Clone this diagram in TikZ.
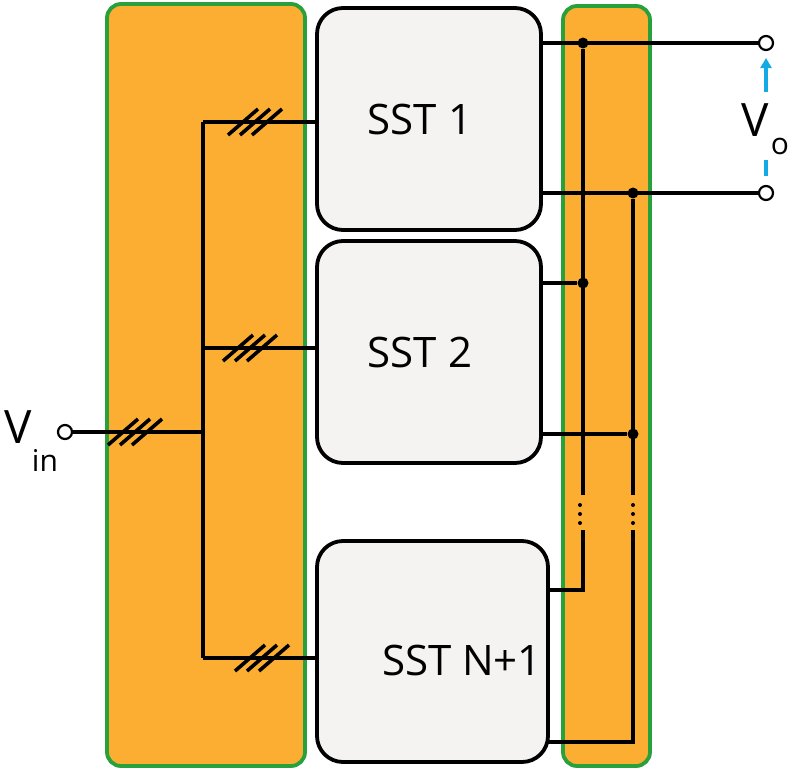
\documentclass[tikz,border=0pt]{standalone}
\usepackage{fontspec}
\setmainfont{Open Sans}
\usetikzlibrary{arrows.meta,calc}
\definecolor{org}{RGB}{251,174,50}
\definecolor{grn}{RGB}{40,160,60}
\definecolor{box}{RGB}{245,243,242}
\definecolor{blu}{RGB}{20,170,230}
\begin{document}
\begin{tikzpicture}[x=1pt,y=-1pt,
  band/.style={fill=org,draw=grn,line width=3.8pt,rounded corners=14pt},
  sst/.style={fill=box,draw=black,line width=3.8pt,rounded corners=26pt},
  w/.style={line width=3.6pt},
  dot/.style={circle,fill=black,inner sep=0pt,minimum size=11pt},
  term/.style={circle,draw=black,fill=white,line width=2.2pt,inner sep=0pt,minimum size=14pt},
  lbl/.style={font=\fontsize{42}{46}\selectfont}]
\useasboundingbox (0,0) rectangle (800,771);
\draw[band] (107,4) rectangle (305,766);
\draw[band] (563,6) rectangle (650,766);
\node[sst,minimum width=224pt,minimum height=222pt] (s1) at (429,119) {};
\node[sst,minimum width=224pt,minimum height=222pt] (s2) at (429,352) {};
\node[sst,minimum width=231pt,minimum height=221pt] (s3) at (432.5,651.5) {};
\node[lbl] at (420,119) {SST 1};
\node[lbl] at (420,352) {SST 2};
\node[lbl] at (462,660) {SST N+1};
% input
\node[term] (vin) at (65,432) {};
\node[font=\fontsize{46}{50}\selectfont] at (18,427) {V};
\node[font=\fontsize{30}{34}\selectfont] at (45,460) {in};
\coordinate (b0) at (203,432);
\coordinate (bt) at (203,122);
\coordinate (bb) at (203,658);
\coordinate (bm) at (203,348);
\draw[w] (vin) -- (b0);
\draw[w] (bt) -- (bb);
\draw[w] (bt) -- (317,122);
\draw[w] (bm) -- (317,348);
\draw[w] (bb) -- (317,658);
\foreach \p in {{135,432},{255,122},{250,348},{262,658}}{
  \foreach \d in {-12,0,12}{\draw[w] ($(\p)+(\d-15,13)$) -- ($(\p)+(\d+15,-13)$);}}
% outputs
\node[term] (o1) at (766,43) {};
\node[term] (o2) at (766,193) {};
\node[dot] (d1) at (583,43) {};
\node[dot] (d2) at (583,283) {};
\node[dot] (d3) at (633,193) {};
\node[dot] (d4) at (633,434) {};
\draw[w] (541,43) -- (o1);
\draw[w] (541,193) -- (o2);
\draw[w] (541,283) -- (d2);
\draw[w] (541,434) -- (d4);
\draw[w] (548,590) -- (583,590) -- (583,530);
\draw[w] (548,742) -- (633,742) -- (633,530);
\draw[w] (d1) -- (583,495);
\draw[w] (d3) -- (633,495);
\foreach \x in {580,633}{\foreach \y in {505,514,523}{\fill (\x,\y) circle (2pt);}}
% Vo
\draw[blu,line width=3.5pt,-{Triangle[length=10pt,width=11pt]}] (766,92) -- (766,58);
\draw[blu,line width=3.5pt] (766,160) -- (766,176);
\node[font=\fontsize{46}{50}\selectfont] at (755,120) {V};
\node[font=\fontsize{30}{34}\selectfont] at (780,146) {o};
\end{tikzpicture}
\end{document}
